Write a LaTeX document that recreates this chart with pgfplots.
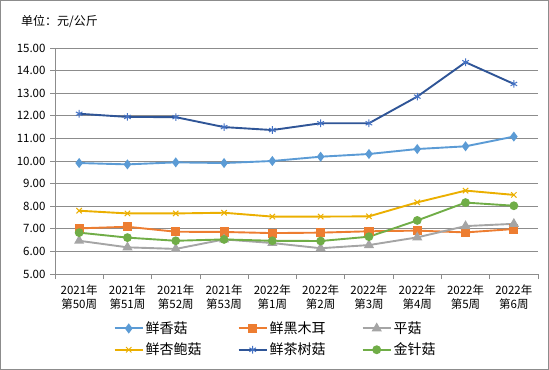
\documentclass[border=0pt]{standalone}
\usepackage{pgfplots}
\pgfplotsset{compat=1.18}
\usepackage{pgfplotstable}
\usepackage{fontspec}
\setmainfont{Noto Sans CJK SC}
\definecolor{cA}{HTML}{5B9BD5}
\definecolor{cB}{HTML}{ED7D31}
\definecolor{cC}{HTML}{A5A5A5}
\definecolor{cD}{HTML}{EBAF00}
\definecolor{cE}{HTML}{2F5597}
\definecolor{cEm}{HTML}{4472C4}
\definecolor{cF}{HTML}{70AD47}
\definecolor{gridc}{HTML}{8C8C8C}
\pgfplotstableread{
x    xiang  hei   ping  xing  cha    jin
0.5  9.91   7.02  6.47  7.80  12.09  6.83
1.5  9.85   7.09  6.18  7.68  11.95  6.61
2.5  9.94   6.87  6.11  7.68  11.94  6.47
3.5  9.91   6.86  6.53  7.71  11.50  6.53
4.5  10.00  6.81  6.37  7.54  11.37  6.47
5.5  10.19  6.83  6.14  7.54  11.67  6.46
6.5  10.31  6.89  6.28  7.55  11.67  6.65
7.5  10.53  6.92  6.62  8.17  12.85  7.37
8.5  10.65  6.84  7.12  8.69  14.37  8.16
9.5  11.08  6.99  7.22  8.50  13.41  8.02
}\datatable
\begin{document}
\begin{tikzpicture}
\useasboundingbox (0,0) rectangle (549bp,370bp);
\draw[gridc, line width=0.8bp] (0.5bp,0.5bp) rectangle (548.5bp,369.5bp);
\node[anchor=west, font=\fontsize{12bp}{14bp}\selectfont, inner sep=0pt] at (21bp,349bp) {单位：元/公斤};
\begin{axis}[
  at={(55bp,96bp)}, anchor=south west,
  scale only axis, width=483bp, height=226bp,
  xmin=0, xmax=10, ymin=5, ymax=15,
  axis lines*=left,
  axis line style={draw=gridc, line width=0.8bp, -},
  ymajorgrids, grid style={draw=gridc, line width=0.8bp},
  ytick={5,6,...,15},
  yticklabel style={/pgf/number format/fixed, /pgf/number format/fixed zerofill, /pgf/number format/precision=2, /pgf/number format/assume math mode=true, font=\fontsize{11.5bp}{13bp}\selectfont, xshift=-1bp},
  xtick={0,...,10}, xticklabels={},
  tick align=outside, major tick length=5bp,
  tick style={draw=gridc, line width=0.8bp},
  extra x ticks={0.5,1.5,...,9.5},
  extra x tick labels={{2021年\\第50周},{2021年\\第51周},{2021年\\第52周},{2021年\\第53周},{2022年\\第1周},{2022年\\第2周},{2022年\\第3周},{2022年\\第4周},{2022年\\第5周},{2022年\\第6周}},
  extra x tick style={major tick length=0pt, tick style={draw=none}},
  xticklabel style={align=center, font=\fontsize{11.5bp}{14bp}\selectfont, yshift=-7bp},
  legend columns=3,
  legend cell align=left,
  legend style={at={(0.115,-0.193)}, anchor=north west, draw=none, fill=none,
    font=\fontsize{14bp}{16bp}\selectfont,
    /tikz/every even column/.append style={column sep=34bp},
    row sep=4bp},
  legend image code/.code={\draw[line width=2bp, mark repeat=2,mark phase=2] plot coordinates {(0bp,0bp) (14bp,0bp) (28bp,0bp)};},
]
\addplot[cA, line width=1.9bp, mark=diamond*, mark size=3.5bp, mark options={fill=cA}] table[x=x,y=xiang] {\datatable};
\addlegendentry{鲜香菇}
\addplot[cB, line width=1.9bp, mark=square*, mark size=3.6bp, mark options={fill=cB}] table[x=x,y=hei] {\datatable};
\addlegendentry{鲜黑木耳}
\addplot[cC, line width=1.9bp, mark=triangle*, mark size=4bp, mark options={fill=cC}] table[x=x,y=ping] {\datatable};
\addlegendentry{平菇}
\addplot[cD, line width=1.9bp, mark=x, mark size=3.8bp, mark options={line width=1bp}] table[x=x,y=xing] {\datatable};
\addlegendentry{鲜杏鲍菇}
\addplot[cE, line width=1.9bp, mark=asterisk, mark size=3.8bp, mark options={draw=cEm, line width=1bp}] table[x=x,y=cha] {\datatable};
\addlegendentry{鲜茶树菇}
\addplot[cF, line width=1.9bp, mark=*, mark size=3.4bp, mark options={fill=cF}] table[x=x,y=jin] {\datatable};
\addlegendentry{金针菇}
\end{axis}
\end{tikzpicture}
\end{document}
